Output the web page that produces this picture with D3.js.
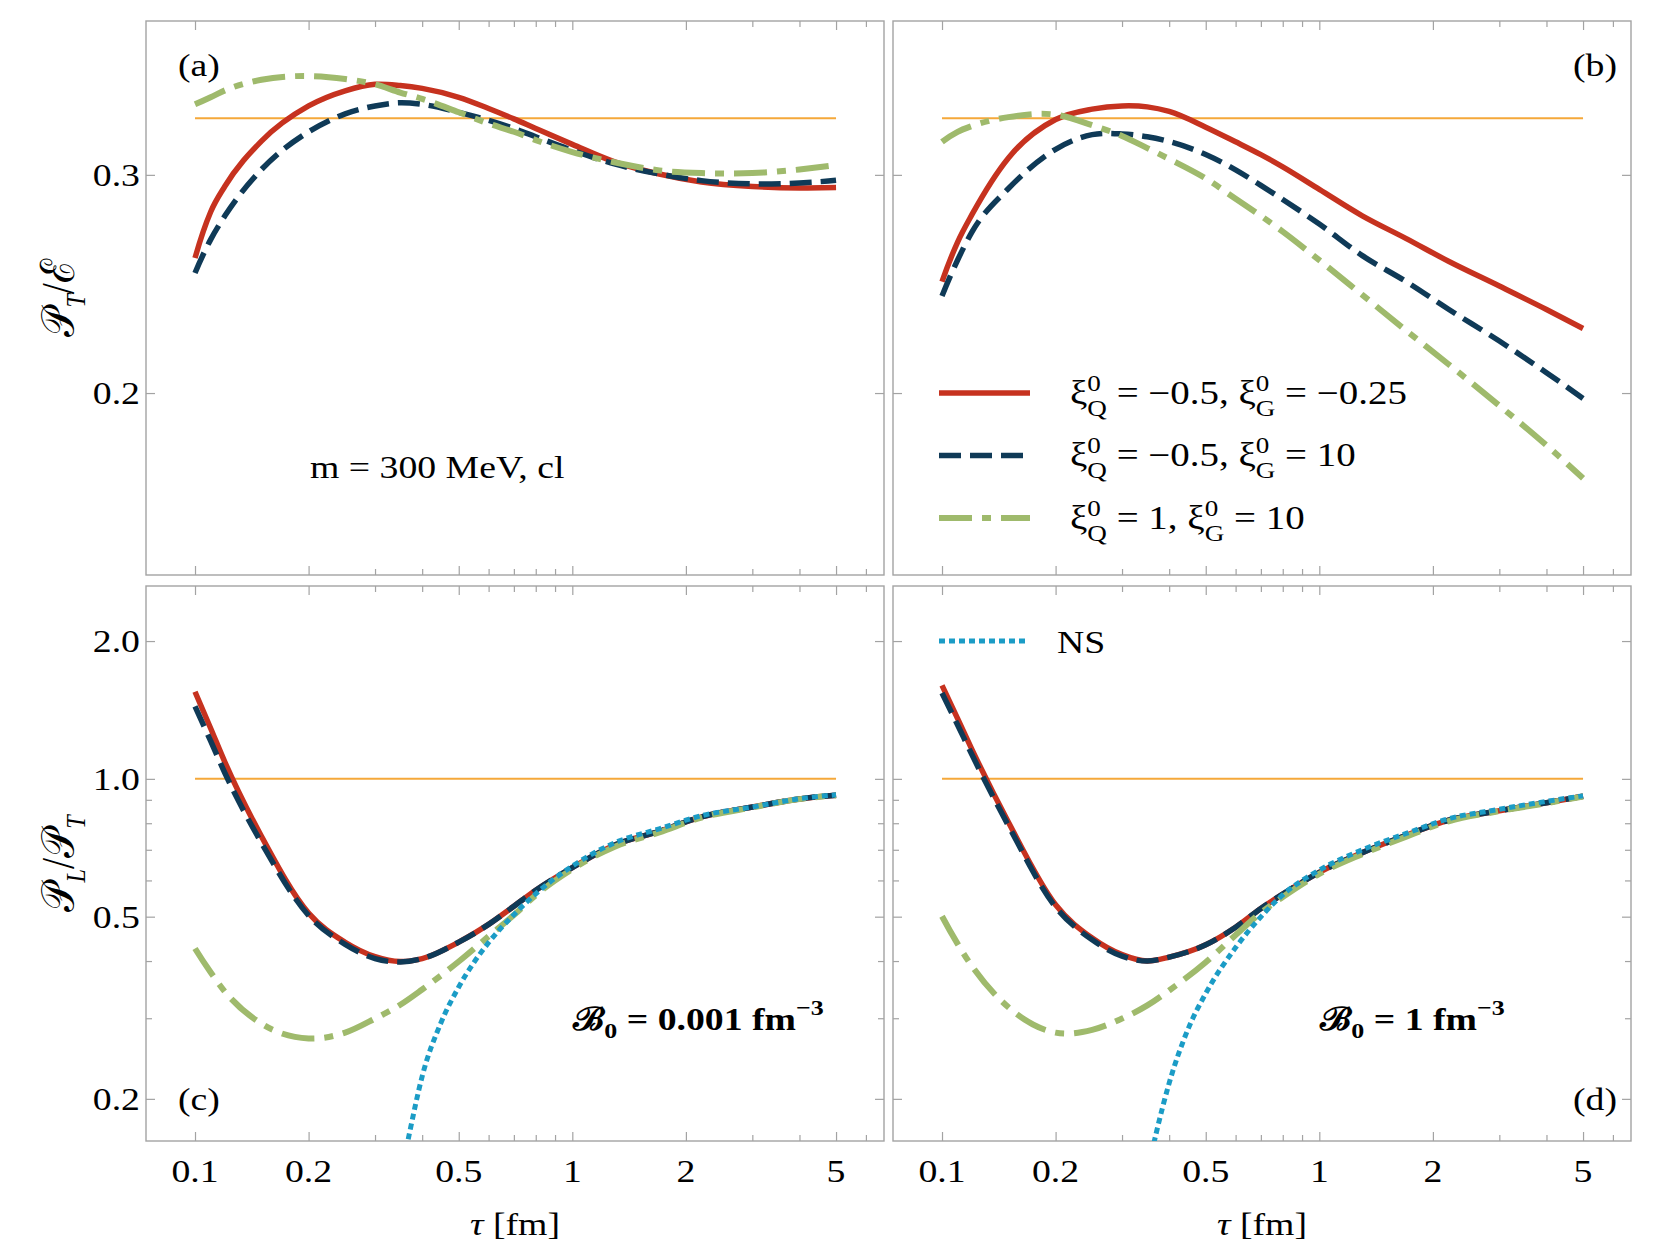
<!DOCTYPE html>
<html>
<head>
<meta charset="utf-8">
<script src="https://cdn.jsdelivr.net/npm/d3@7"></script>
<style>
  body { margin: 0; background: #fff; }
  svg { font-family: "Liberation Serif", "Times New Roman", serif; }
</style>
</head>
<body>
<div id="chart"></div>
<script>
// proper time grid (fm) shared by the curves
var tau = [0.1, 0.11, 0.12, 0.15, 0.2, 0.25, 0.3, 0.35, 0.4, 0.5, 0.6, 0.7, 0.8, 1, 1.3, 1.7, 2.2, 3, 4, 5];
var tauNS = [0.35, 0.37, 0.4, 0.45, 0.5, 0.6, 0.7, 0.8, 1, 1.3, 1.7, 2.2, 3, 4, 5];

// (a) P_T/E, B0 = 0.001
var aRed   = [0.257, 0.280, 0.2937, 0.3194, 0.341, 0.3507, 0.355, 0.3542, 0.3523, 0.3465, 0.3394, 0.3329, 0.327, 0.3175, 0.3072, 0.3005, 0.2961, 0.2936, 0.2928, 0.293];
var aDark  = [0.250, 0.266, 0.278, 0.303, 0.325, 0.336, 0.341, 0.343, 0.342, 0.337, 0.332, 0.327, 0.322, 0.314, 0.306, 0.3005, 0.2968, 0.295, 0.2955, 0.297];
var aGreen = [0.342, 0.3465, 0.351, 0.358, 0.3605, 0.3585, 0.355, 0.3496, 0.3455, 0.337, 0.330, 0.325, 0.320, 0.313, 0.307, 0.3025, 0.301, 0.301, 0.303, 0.3055];
// (b) P_T/E, B0 = 1
var bRed   = [0.246, 0.2648, 0.2786, 0.3096, 0.3325, 0.339, 0.341, 0.3404, 0.3375, 0.3278, 0.319, 0.3115, 0.3045, 0.292, 0.278, 0.2665, 0.2555, 0.244, 0.2336, 0.2255];
var bDark  = [0.2395, 0.2561, 0.2697, 0.2925, 0.3146, 0.3233, 0.3237, 0.322, 0.3192, 0.3116, 0.3028, 0.2942, 0.2866, 0.2738, 0.2582, 0.246, 0.2337, 0.2203, 0.2077, 0.198];
var bGreen = [0.319, 0.325, 0.3285, 0.334, 0.3355, 0.329, 0.3225, 0.3153, 0.309, 0.298, 0.287, 0.278, 0.270, 0.256, 0.240, 0.2246, 0.211, 0.1954, 0.1815, 0.1707];
// (c) P_L/P_T, B0 = 0.001
var cRed   = [1.55, 1.29, 1.088, 0.749, 0.509, 0.4396, 0.4089, 0.399, 0.405, 0.44, 0.481, 0.527, 0.571, 0.64, 0.718, 0.768, 0.826, 0.868, 0.904, 0.921];
var cDark  = [1.44, 1.21, 1.03, 0.725, 0.503, 0.435, 0.405, 0.398, 0.405, 0.44, 0.481, 0.527, 0.571, 0.64, 0.718, 0.768, 0.826, 0.868, 0.904, 0.921];
var cGreen = [0.426, 0.378, 0.343, 0.292, 0.271, 0.279, 0.2995, 0.321, 0.3467, 0.399, 0.453, 0.504, 0.557, 0.635, 0.712, 0.764, 0.823, 0.866, 0.903, 0.920];
var cNS    = [0.134, 0.168, 0.224, 0.295, 0.351, 0.439, 0.505, 0.561, 0.645, 0.726, 0.778, 0.831, 0.868, 0.905, 0.923];
// (d) P_L/P_T, B0 = 1
var dRed   = [1.60, 1.354, 1.16, 0.804, 0.531, 0.449, 0.413, 0.400, 0.408, 0.434, 0.474, 0.521, 0.56, 0.625, 0.69, 0.753, 0.812, 0.852, 0.887, 0.916];
var dDark  = [1.54, 1.311, 1.13, 0.79, 0.525, 0.445, 0.41, 0.40, 0.408, 0.434, 0.474, 0.521, 0.56, 0.625, 0.69, 0.753, 0.812, 0.852, 0.887, 0.916];
var dGreen = [0.501, 0.436, 0.39, 0.317, 0.279, 0.283, 0.2995, 0.320, 0.345, 0.3975, 0.456, 0.51, 0.552, 0.62, 0.685, 0.748, 0.808, 0.85, 0.885, 0.915];
var dNS    = [0.138, 0.169, 0.2165, 0.2855, 0.34, 0.428, 0.4997, 0.558, 0.632, 0.700, 0.760, 0.818, 0.858, 0.893, 0.918];

// reference values (conformal / isotropic)
var refUpper = 1 / 3, refLower = 1;

// ticks
var xMajor = [0.1, 0.2, 0.5, 1, 2, 5];
var xMinor = [0.3, 0.4, 0.6, 0.7, 0.8, 0.9, 3, 4, 6];
var xLabels = ["0.1", "0.2", "0.5", "1", "2", "5"];
var yUpMajor = [0.2, 0.3];
var yUpLabels = ["0.2", "0.3"];
var yLoMajor = [0.2, 0.5, 1, 2];
var yLoMinor = [0.3, 0.4, 0.6, 0.7, 0.8, 0.9];
var yLoLabels = ["0.2", "0.5", "1.0", "2.0"];

var legendNames = [
  [{t: "ξ"}, {sup: "0", sub: "Q"}, {t: "\u00a0=\u00a0\u22120.5,\u00a0ξ"}, {sup: "0", sub: "G"}, {t: "\u00a0=\u00a0\u22120.25"}],
  [{t: "ξ"}, {sup: "0", sub: "Q"}, {t: "\u00a0=\u00a0\u22120.5,\u00a0ξ"}, {sup: "0", sub: "G"}, {t: "\u00a0=\u00a010"}],
  [{t: "ξ"}, {sup: "0", sub: "Q"}, {t: "\u00a0=\u00a01,\u00a0ξ"}, {sup: "0", sub: "G"}, {t: "\u00a0=\u00a010"}]
];

var W = 1667, H = 1246;
var SX = 1.18; // glyphs in the original are a little wide
var svg = d3.select("#chart").append("svg").attr("width", W).attr("height", H);

var styles = {
  red:   {color: "#c6321f", width: 5.5, dash: null},
  dark:  {color: "#0f3a57", width: 5.5, dash: "22,9"},
  green: {color: "#9fba6c", width: 6, dash: "33,10,9,10"},
  ns:    {color: "#1b9cc6", width: 5, dash: "6,4"}
};

var cols = [146, 893], rows = [21, 586];
var pw = 738, ph = [554, 555];
var xDomain = [0.07415, 6.70];
var yDomUpper = [0.14262, 0.3993], yDomLower = [0.1618, 2.638];
var frameColor = "#a3a3a3";

// smooth y(x) through the points: cubic Hermite, tangents from local parabolas
function smoothPath(pts) {
  var n = pts.length, m = [], p = d3.path();
  function d(i) { return (pts[i + 1][1] - pts[i][1]) / (pts[i + 1][0] - pts[i][0]); }
  for (var i = 1; i < n - 1; i++) {
    var h0 = pts[i][0] - pts[i - 1][0], h1 = pts[i + 1][0] - pts[i][0];
    m[i] = (d(i - 1) * h1 + d(i) * h0) / (h0 + h1);
  }
  var a0 = pts[1][0] - pts[0][0], a1 = pts[2][0] - pts[1][0];
  m[0] = d(0) - (d(1) - d(0)) * a0 / (a0 + a1);
  var b0 = pts[n - 2][0] - pts[n - 3][0], b1 = pts[n - 1][0] - pts[n - 2][0];
  m[n - 1] = d(n - 2) + (d(n - 2) - d(n - 3)) * b1 / (b0 + b1);
  p.moveTo(pts[0][0], pts[0][1]);
  for (var j = 0; j < n - 1; j++) {
    var h = pts[j + 1][0] - pts[j][0];
    p.bezierCurveTo(pts[j][0] + h / 3, pts[j][1] + m[j] * h / 3,
      pts[j + 1][0] - h / 3, pts[j + 1][1] - m[j + 1] * h / 3,
      pts[j + 1][0], pts[j + 1][1]);
  }
  return p.toString();
}

// text with sub/superscripts, built piece by piece
function rich(parent, x, y, pieces, o) {
  o = o || {};
  var tr = "translate(" + x + "," + y + ")" + (o.rotate ? " rotate(" + o.rotate + ") scale(1," + SX + ")" : " scale(" + SX + ",1)");
  var outer = parent.append("g").attr("transform", tr);
  var inner = outer.append("g");
  var cx = 0;
  pieces.forEach(function (p) {
    if (typeof p === "string") p = {t: p};
    if (p.t != null) {
      var t = inner.append("text").attr("x", cx).attr("y", p.dy || 0)
        .attr("font-size", p.size || o.size || 32)
        .attr("font-style", p.italic ? "italic" : null)
        .attr("font-weight", o.bold ? "bold" : null)
        .text(p.t);
      cx += t.node().getComputedTextLength();
    } else {
      var w = 0;
      [["sup", o.supY || -11], ["sub", o.subY || 10]].forEach(function (k) {
        if (p[k[0]] == null) return;
        var t = inner.append("text").attr("x", cx).attr("y", k[1])
          .attr("font-size", o.scriptSize || 22)
          .attr("font-weight", o.bold ? "bold" : null)
          .attr("font-style", p.italic ? "italic" : null)
          .text(p[k[0]]);
        w = Math.max(w, t.node().getComputedTextLength());
      });
      cx += w;
    }
  });
  var shift = o.anchor === "end" ? -cx : o.anchor === "middle" ? -cx / 2 : 0;
  inner.attr("transform", "translate(" + shift + ",0)");
  return outer;
}

function tickSet(g, axisFn, scale, vals, len, tr) {
  g.append("g").attr("transform", tr)
    .call(axisFn(scale).tickValues(vals).tickSize(-len).tickFormat(""))
    .call(function (s) {
      s.select(".domain").remove();
      s.selectAll("line").attr("stroke", frameColor).attr("stroke-width", 1.2);
    });
}

var panels = [
  {id: "a", col: 0, row: 0, series: [[aRed, "red"], [aDark, "dark"], [aGreen, "green"]], ns: null, tag: "(a)"},
  {id: "b", col: 1, row: 0, series: [[bRed, "red"], [bDark, "dark"], [bGreen, "green"]], ns: null, tag: "(b)"},
  {id: "c", col: 0, row: 1, series: [[cRed, "red"], [cDark, "dark"], [cGreen, "green"]], ns: cNS, tag: "(c)"},
  {id: "d", col: 1, row: 1, series: [[dRed, "red"], [dDark, "dark"], [dGreen, "green"]], ns: dNS, tag: "(d)"}
];

panels.forEach(function (p) {
  var left = cols[p.col], top = rows[p.row], h = ph[p.row];
  var x = d3.scaleLog().domain(xDomain).range([left, left + pw]);
  var y = d3.scaleLog().domain(p.row ? yDomLower : yDomUpper).range([top + h, top]);
  var g = svg.append("g");

  g.append("clipPath").attr("id", "clip-" + p.id)
    .append("rect").attr("x", left).attr("y", top).attr("width", pw).attr("height", h);

  // frame
  g.append("rect").attr("x", left).attr("y", top).attr("width", pw).attr("height", h)
    .attr("fill", "none").attr("stroke", frameColor).attr("stroke-width", 1.4);

  // ticks on all four sides, pointing inward
  tickSet(g, d3.axisBottom, x, xMajor, 9, "translate(0," + (top + h) + ")");
  tickSet(g, d3.axisBottom, x, xMinor, 6, "translate(0," + (top + h) + ")");
  tickSet(g, d3.axisTop, x, xMajor, 9, "translate(0," + top + ")");
  tickSet(g, d3.axisTop, x, xMinor, 6, "translate(0," + top + ")");
  var yMaj = p.row ? yLoMajor : yUpMajor, yMin = p.row ? yLoMinor : [];
  tickSet(g, d3.axisLeft, y, yMaj, 9, "translate(" + left + ",0)");
  tickSet(g, d3.axisLeft, y, yMin, 6, "translate(" + left + ",0)");
  tickSet(g, d3.axisRight, y, yMaj, 9, "translate(" + (left + pw) + ",0)");
  tickSet(g, d3.axisRight, y, yMin, 6, "translate(" + (left + pw) + ",0)");

  // reference line
  var ref = p.row ? refLower : refUpper;
  g.append("line").attr("x1", x(0.1)).attr("x2", x(5)).attr("y1", y(ref)).attr("y2", y(ref))
    .attr("stroke", "#f5a83a").attr("stroke-width", 2);

  var cg = g.append("g").attr("clip-path", "url(#clip-" + p.id + ")");
  p.series.forEach(function (s) {
    var st = styles[s[1]];
    cg.append("path")
      .attr("d", smoothPath(tau.map(function (t, i) { return [x(t), y(s[0][i])]; })))
      .attr("fill", "none").attr("stroke", st.color).attr("stroke-width", st.width)
      .attr("stroke-dasharray", st.dash);
  });
  if (p.ns) {
    cg.append("path")
      .attr("d", smoothPath(tauNS.map(function (t, i) { return [x(t), y(p.ns[i])]; })))
      .attr("fill", "none").attr("stroke", styles.ns.color).attr("stroke-width", styles.ns.width)
      .attr("stroke-dasharray", styles.ns.dash);
  }

  // tick labels
  if (p.row === 1) {
    xMajor.forEach(function (v, i) {
      rich(g, x(v), top + h + 41, [xLabels[i]], {anchor: "middle"});
    });
    rich(g, left + pw / 2, 1235, [{t: "τ", italic: true}, "\u00a0[fm]"], {anchor: "middle"});
  }
  if (p.col === 0) {
    var labs = p.row ? yLoLabels : yUpLabels;
    yMaj.forEach(function (v, i) {
      rich(g, 140, y(v) + 11, [labs[i]], {anchor: "end"});
    });
  }

  // panel tag
  if (p.col === 0) rich(g, 178, p.row ? 1110 : 76, [p.tag]);
  else rich(g, 1617, p.row ? 1110 : 76, [p.tag], {anchor: "end"});
});

// y-axis titles
rich(svg, 74, rows[0] + ph[0] / 2,
  [{t: "𝒫", size: 40}, {sub: "T", italic: true}, {t: "/ℰ", size: 40}],
  {anchor: "middle", rotate: -90, subY: 9, scriptSize: 24});
rich(svg, 74, rows[1] + ph[1] / 2,
  [{t: "𝒫", size: 40}, {sub: "L", italic: true}, {t: "/𝒫", size: 40}, {sub: "T", italic: true}],
  {anchor: "middle", rotate: -90, subY: 9, scriptSize: 24});

// annotations
rich(svg, 310, 478, ["m = 300 MeV, cl"]);
rich(svg, 573, 1030, [{t: "ℬ"}, {sub: "0"}, {t: "\u00a0=\u00a00.001\u00a0fm"}, {sup: "\u22123"}],
  {bold: true, subY: 8, supY: -15});
rich(svg, 1320, 1030, [{t: "ℬ"}, {sub: "0"}, {t: "\u00a0=\u00a01\u00a0fm"}, {sup: "\u22123"}],
  {bold: true, subY: 8, supY: -15});

// legend
var legStyles = ["red", "dark", "green"];
var legY = [393, 455.5, 518];
legStyles.forEach(function (k, i) {
  var st = styles[k];
  svg.append("line").attr("x1", 939).attr("x2", 1030).attr("y1", legY[i]).attr("y2", legY[i])
    .attr("stroke", st.color).attr("stroke-width", st.width).attr("stroke-dasharray", st.dash);
  rich(svg, 1070, legY[i] + 10.5, legendNames[i], {size: 33, supY: -13, subY: 12, scriptSize: 23});
});
svg.append("line").attr("x1", 939).attr("x2", 1027).attr("y1", 641).attr("y2", 641)
  .attr("stroke", styles.ns.color).attr("stroke-width", styles.ns.width).attr("stroke-dasharray", styles.ns.dash);
rich(svg, 1057, 653, ["NS"]);
</script>
</body>
</html>
